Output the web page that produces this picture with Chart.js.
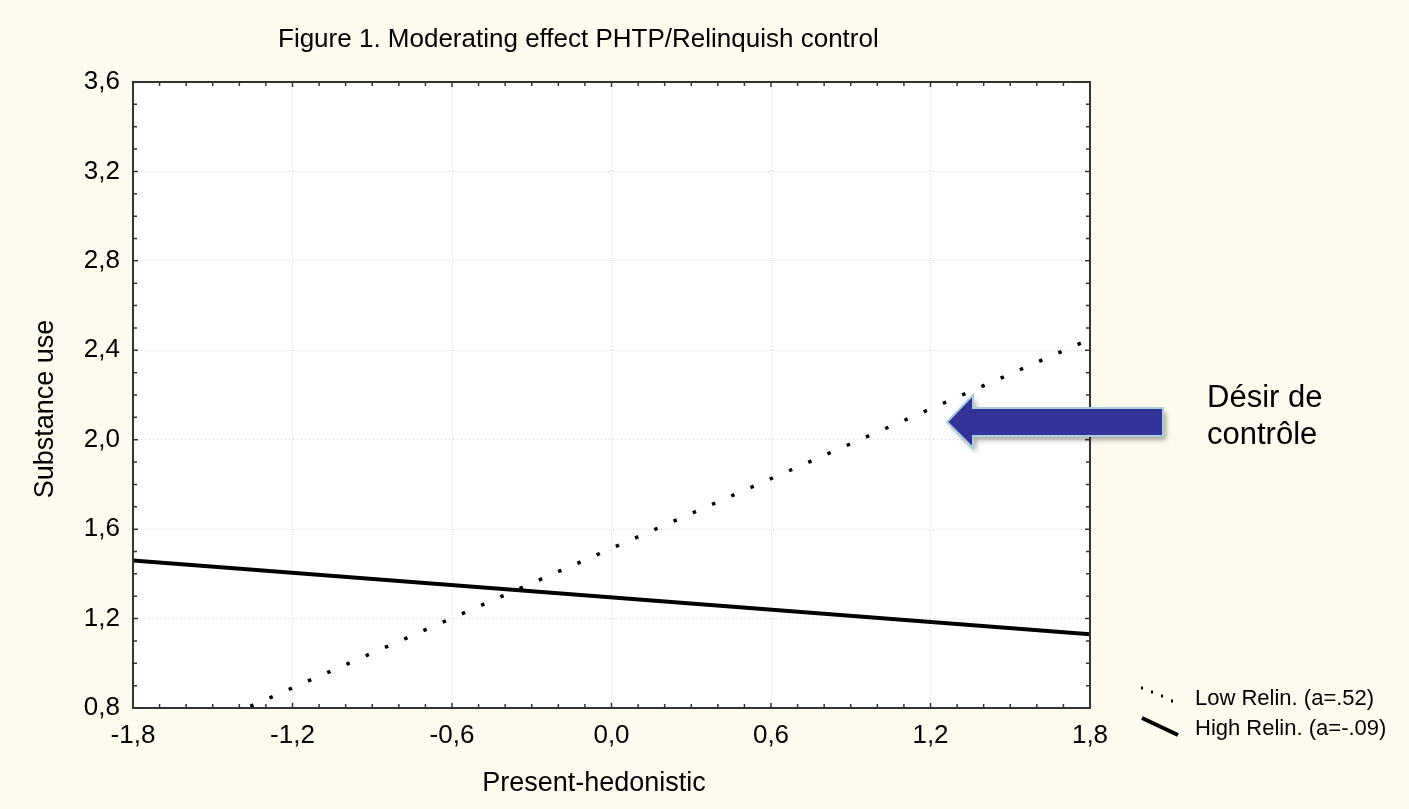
<!DOCTYPE html>
<html>
<head>
<meta charset="utf-8">
<script src="https://cdn.jsdelivr.net/npm/chart.js@4/dist/chart.umd.min.js"></script>
<style>
html,body{margin:0;padding:0;background:#FEFAEE;}
#wrap{width:1409px;height:809px;}
</style>
</head>
<body>
<div id="wrap"><canvas id="c" width="1409" height="809"></canvas></div>
<script>
// ---- data ----
const xEnds = [-1.8, 1.8];
const lowRelin = [0.578, 2.45];   // Low Relin. (a=.52)
const highRelin = [1.46, 1.13];   // High Relin. (a=-.09)
const xTicks = [-1.8, -1.2, -0.6, 0.0, 0.6, 1.2, 1.8];
const yTicks = [0.8, 1.2, 1.6, 2.0, 2.4, 2.8, 3.2, 3.6];
const seriesNames = ['Low Relin. (a=.52)', 'High Relin. (a=-.09)'];
const titleText = 'Figure 1. Moderating effect PHTP/Relinquish control';
const xTitle = 'Present-hedonistic';
const yTitle = 'Substance use';
const noteLines = ['Désir de', 'contrôle'];

const FONT = '"Liberation Sans", Arial, sans-serif';
const fmt = v => (Math.round(v*10)/10).toFixed(1).replace('.', ',');

const toPts = ys => xEnds.map((x,i)=>({x:x, y:ys[i]}));

const decor = {
  id:'decor',
  beforeDraw(chart){
    const ctx = chart.ctx;
    ctx.save();
    ctx.fillStyle = '#FEFAEE';
    ctx.fillRect(0,0,chart.width,chart.height);
    const a = chart.chartArea;
    ctx.fillStyle = '#FFFFFF';
    ctx.fillRect(a.left,a.top,a.right-a.left,a.bottom-a.top);
    ctx.restore();
  },
  afterDraw(chart){
    const ctx = chart.ctx;
    const a = chart.chartArea;
    const xs = chart.scales.x, ys = chart.scales.y;
    ctx.save();
    // frame
    ctx.strokeStyle = '#333333';
    ctx.lineWidth = 2;
    ctx.strokeRect(a.left, a.top, a.right-a.left, a.bottom-a.top);
    // inside ticks
    ctx.lineWidth = 1.5;
    ctx.beginPath();
    for (let k=0;k<=36;k++){
      const v = -1.8 + k*0.1;
      const px = xs.getPixelForValue(v);
      const len = (k%6===0)?5:4;
      ctx.moveTo(px, a.bottom); ctx.lineTo(px, a.bottom-len);
      ctx.moveTo(px, a.top); ctx.lineTo(px, a.top+len);
    }
    for (let k=0;k<=28;k++){
      const v = 0.8 + k*0.1;
      const py = ys.getPixelForValue(v);
      const len = (k%4===0)?5:4;
      ctx.moveTo(a.left, py); ctx.lineTo(a.left+len, py);
      ctx.moveTo(a.right, py); ctx.lineTo(a.right-len, py);
    }
    ctx.stroke();

    // titles
    ctx.fillStyle = '#000';
    ctx.textBaseline = 'alphabetic';
    ctx.font = '26px ' + FONT;
    ctx.textAlign = 'left';
    ctx.fillText(titleText, 278, 47);
    ctx.font = '27px ' + FONT;
    ctx.textAlign = 'center';
    ctx.fillText(xTitle, 594, 791);
    ctx.save();
    ctx.translate(53, 409);
    ctx.rotate(-Math.PI/2);
    ctx.fillText(yTitle, 0, 0);
    ctx.restore();

    // legend
    ctx.textAlign = 'left';
    ctx.font = '22px ' + FONT;
    ctx.fillText(seriesNames[0], 1195, 705);
    ctx.fillText(seriesNames[1], 1195, 735);
    ctx.fillStyle = '#000';
    const dots = [[1142,688],[1152,692],[1162,696],[1172,701]];
    dots.forEach(d=>ctx.fillRect(d[0]-1,d[1]-1.5,2,3));
    ctx.strokeStyle = '#000';
    ctx.lineWidth = 4;
    ctx.beginPath();
    ctx.moveTo(1142,718); ctx.lineTo(1178,735);
    ctx.stroke();

    // arrow
    ctx.save();
    ctx.shadowColor = 'rgba(0,0,0,0.35)';
    ctx.shadowOffsetX = 3; ctx.shadowOffsetY = 4; ctx.shadowBlur = 5;
    ctx.beginPath();
    ctx.moveTo(947, 422);
    ctx.lineTo(973, 395);
    ctx.lineTo(973, 408);
    ctx.lineTo(1163, 408);
    ctx.lineTo(1163, 436);
    ctx.lineTo(973, 436);
    ctx.lineTo(973, 448);
    ctx.closePath();
    ctx.fillStyle = '#333399';
    ctx.fill();
    ctx.shadowColor = 'transparent';
    ctx.strokeStyle = '#A9CFDC';
    ctx.lineWidth = 2;
    ctx.stroke();
    ctx.restore();

    // note
    ctx.fillStyle = '#000';
    ctx.font = '31px ' + FONT;
    ctx.textAlign = 'left';
    ctx.fillText(noteLines[0], 1207, 407);
    ctx.fillText(noteLines[1], 1207, 444);
    ctx.restore();
  }
};

new Chart(document.getElementById('c'), {
  type: 'scatter',
  data: {
    datasets: [
      {label: seriesNames[0], data: toPts(lowRelin), showLine: true, borderColor:'#000', borderWidth:3.5,
       borderDash:[3.5,17.5], borderDashOffset: 19, borderCapStyle:'butt', pointRadius:0, fill:false},
      {label: seriesNames[1], data: toPts(highRelin), showLine: true, borderColor:'#000', borderWidth:4,
       pointRadius:0, fill:false}
    ]
  },
  options: {
    responsive:false, animation:false, devicePixelRatio:1,
    layout:{padding:{left:0, top:82, right:319, bottom:0}},
    plugins:{legend:{display:false}, title:{display:false}, tooltip:{enabled:false}},
    scales:{
      x:{type:'linear', min:-1.8, max:1.8,
         afterBuildTicks: s => { s.ticks = xTicks.map(v=>({value:v})); },
         afterFit: s => { s.height = 101; },
         grid:{drawTicks:false, color:'#cfcfcf', lineWidth:1},
         border:{display:false, dash:[1,3]},
         ticks:{callback: v => fmt(v), color:'#000', font:{family:FONT, size:26}, padding:12, maxRotation:0, autoSkip:false}
      },
      y:{type:'linear', min:0.8, max:3.6,
         afterBuildTicks: s => { s.ticks = yTicks.map(v=>({value:v})); },
         afterFit: s => { s.width = 133; },
         grid:{drawTicks:false, color:'#cfcfcf', lineWidth:1},
         border:{display:false, dash:[1,3]},
         ticks:{callback: v => fmt(v), color:'#000', font:{family:FONT, size:26}, padding:13, autoSkip:false}
      }
    }
  },
  plugins:[decor]
});
</script>
</body>
</html>
